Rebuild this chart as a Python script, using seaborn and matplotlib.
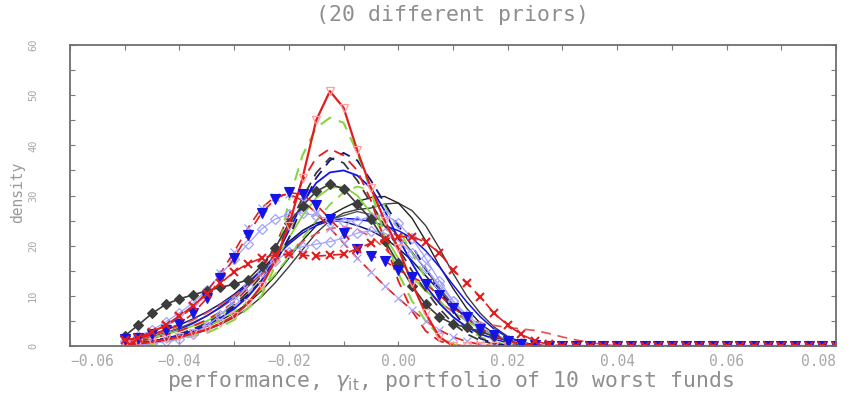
import numpy as np
import pandas as pd
import matplotlib
matplotlib.use("Agg")
import matplotlib.pyplot as plt
import seaborn as sns

# Evaluation grid of the posterior densities (performance of the 10-worst-funds portfolio)
GRID = np.linspace(-0.05, 0.08, 53)

# Density values on GRID starting at -0.05; past the listed points the density is zero
red_solid = [0.3, 0.5, 0.8, 1.3, 1.8, 2.5, 3.3, 4.5, 6.0, 8.5, 12.0, 17.0, 24.0, 33.5, 45.0,
             50.8, 47.5, 39.0, 31.5, 25.0, 19.5, 12.5, 6.5, 1.8, 0.0]
green_dash = [0.0, 0.2, 0.4, 0.8, 1.4, 2.0, 2.6, 3.8, 5.2, 7.5, 10.0, 16.0, 29.0, 38.0, 43.5,
              45.5, 44.5, 38.5, 31.0, 22.0, 14.5, 9.0, 5.0, 2.0, 0.3, 0.0]
red_dash = [0.5, 1.0, 1.5, 2.2, 3.0, 4.0, 5.2, 6.8, 8.8, 11.5, 15.0, 20.0, 26.0, 33.0, 37.5,
            39.3, 38.0, 35.0, 29.0, 21.0, 13.0, 7.0, 3.0, 1.0, 0.2, 0.0]
navy_dash = [0.0, 0.3, 0.7, 1.2, 2.0, 3.0, 4.2, 5.8, 7.8, 10.2, 13.0, 16.5, 21.5, 28.0, 33.5,
             37.0, 38.5, 37.0, 33.0, 28.5, 24.0, 20.0, 15.5, 11.0, 7.0, 3.5, 1.5, 0.5, 0.1, 0.0]
grey_dash = [0.3, 0.6, 1.0, 1.6, 2.4, 3.4, 4.6, 6.2, 8.2, 10.8, 14.0, 18.5, 24.0, 29.5, 34.5,
             37.5, 36.5, 33.0, 28.5, 24.0, 19.5, 15.0, 11.0, 7.5, 4.5, 2.4, 1.1, 0.4, 0.1, 0.0]
blue_solid = [0.2, 0.5, 0.9, 1.5, 2.2, 3.1, 4.2, 5.6, 7.4, 9.8, 13.0, 17.5, 23.0, 28.5, 32.5,
              34.6, 35.0, 34.0, 31.5, 27.0, 21.5, 16.5, 12.0, 8.5, 5.8, 3.8, 2.4, 1.4, 0.7, 0.3, 0.0]
grey_diamond = [2.0, 4.2, 6.5, 8.3, 9.4, 10.2, 11.0, 11.7, 12.3, 13.2, 16.0, 19.5, 24.5, 28.0, 30.8,
                32.3, 31.3, 28.3, 25.3, 21.0, 16.5, 12.0, 8.3, 5.8, 4.4, 3.7, 2.9, 1.9, 1.0, 0.4, 0.1, 0.0]
blue_triangle = [1.3, 1.5, 2.3, 3.2, 4.4, 6.5, 9.5, 13.5, 17.5, 22.2, 26.5, 29.3, 30.6, 30.2, 28.2,
                 25.3, 22.5, 19.3, 18.0, 17.0, 15.1, 13.8, 12.3, 10.2, 7.6, 5.7, 3.4, 2.1, 1.0, 0.4, 0.1, 0.0]
red_cross = [1.2, 1.6, 2.8, 4.2, 6.0, 8.0, 10.3, 12.5, 14.8, 16.4, 17.5, 18.2, 18.3, 18.1, 17.9,
             18.1, 18.3, 19.4, 20.5, 21.3, 21.8, 21.8, 20.7, 18.6, 15.2, 12.5, 9.8, 6.5, 4.2, 2.3, 1.0, 0.3, 0.0]
lavender_diamond = [1.0, 2.0, 3.2, 4.8, 6.6, 8.6, 11.2, 14.2, 17.3, 20.3, 23.3, 25.3, 26.3, 26.5, 26.0,
                    25.2, 24.8, 25.0, 25.8, 26.2, 24.5, 21.5, 17.5, 13.0, 9.0, 5.8, 3.4, 1.8, 0.8, 0.3, 0.0]
lavender_diamond_2 = [0.0, 0.2, 0.5, 0.9, 1.4, 2.4, 4.0, 6.2, 9.0, 12.0, 14.8, 17.0, 18.8, 19.8, 20.3,
                      20.8, 21.5, 22.5, 23.0, 22.5, 21.0, 18.5, 15.5, 12.2, 9.0, 6.2, 4.0, 2.3, 1.2, 0.5, 0.1, 0.0]
green_solid = [0.5, 1.0, 1.6, 2.3, 3.1, 4.0, 5.0, 6.3, 8.0, 10.2, 13.2, 17.0, 21.5, 26.0, 29.5,
               31.5, 31.8, 30.0, 26.5, 22.0, 17.5, 13.8, 11.0, 8.8, 6.8, 5.0, 3.4, 2.0, 1.0, 0.4, 0.1, 0.0]
black_solid = [0.3, 0.6, 1.0, 1.5, 2.1, 2.9, 3.9, 5.1, 6.6, 8.5, 11.0, 14.0, 17.5, 21.0, 24.0,
               26.0, 27.5, 28.8, 29.6, 29.8, 28.5, 25.5, 21.0, 16.0, 11.5, 7.5, 4.5, 2.4, 1.1, 0.4, 0.1, 0.0]
grey_solid = [0.6, 1.2, 1.9, 2.7, 3.6, 4.7, 6.0, 7.6, 9.5, 11.8, 14.4, 17.3, 20.5, 23.0, 24.5,
              25.2, 26.0, 26.8, 26.2, 24.5, 22.0, 18.8, 15.2, 11.6, 8.3, 5.6, 3.5, 2.0, 1.0, 0.4, 0.1, 0.0]
navy_solid = [0.8, 1.5, 2.3, 3.2, 4.2, 5.4, 6.8, 8.4, 10.3, 12.6, 15.2, 18.0, 20.8, 23.0, 24.5,
              25.0, 24.8, 24.0, 23.0, 21.5, 19.5, 17.0, 14.0, 11.0, 8.0, 5.5, 3.5, 2.0, 1.0, 0.4, 0.1, 0.0]
blue_solid_2 = [0.4, 0.9, 1.5, 2.3, 3.3, 4.5, 6.0, 7.8, 9.9, 12.3, 15.0, 17.8, 20.3, 22.5, 24.0,
                25.0, 25.4, 25.3, 24.8, 24.0, 23.0, 21.5, 19.0, 15.8, 12.2, 8.8, 5.8, 3.4, 1.7, 0.7, 0.2, 0.0]
grey_solid_2 = [0.2, 0.4, 0.7, 1.1, 1.6, 2.3, 3.2, 4.3, 5.7, 7.5, 9.8, 12.6, 15.8, 19.2, 22.5,
                25.0, 26.5, 27.2, 27.5, 28.3, 28.5, 27.0, 24.0, 19.5, 14.5, 10.0, 6.5, 3.8, 1.9, 0.8, 0.2, 0.0]
red_dash_cross = [1.0, 1.8, 2.8, 4.0, 5.6, 7.8, 10.8, 14.5, 18.8, 23.5, 27.5, 29.8, 30.3, 29.0, 26.5,
                  23.5, 20.5, 17.5, 14.8, 12.0, 9.5, 7.2, 5.0, 3.2, 1.8, 0.9, 0.3, 0.0]
green_dash_2 = [0.3, 0.6, 1.0, 1.5, 2.1, 2.9, 3.9, 5.2, 6.8, 8.8, 11.3, 14.3, 17.8, 21.5, 25.0,
                28.2, 30.6, 31.8, 31.0, 28.0, 23.5, 18.5, 13.5, 9.2, 5.8, 3.4, 1.8, 0.8, 0.3, 0.0]
red_dash_tail = [0.8, 1.4, 2.1, 3.0, 4.0, 5.2, 6.6, 8.2, 10.0, 12.0, 14.2, 16.5, 18.8, 20.8, 22.4,
                 23.4, 23.8, 23.2, 21.8, 19.5, 16.8, 14.0, 11.2, 8.8, 6.8, 5.4, 4.6, 4.1, 3.7, 3.4,
                 3.1, 2.5, 1.8, 1.2, 0.7, 0.3, 0.0]

XTICKS = [-0.06, -0.04, -0.02, 0.00, 0.02, 0.04, 0.06, 0.08]
XTICK_LABELS = ["\u22120.06", "\u22120.04", "\u22120.02", "0.00", "0.02", "0.04", "0.06", "0.08"]
YTICKS = [0, 10, 20, 30, 40, 50, 60]

# the 20 priors, in drawing order (plain lines first, marked lines on top)
PRIORS = [
    ("grey_solid", grey_solid), ("grey_solid_2", grey_solid_2), ("black_solid", black_solid),
    ("navy_solid", navy_solid), ("blue_solid_2", blue_solid_2), ("green_solid", green_solid),
    ("green_dash_2", green_dash_2), ("red_dash_tail", red_dash_tail), ("grey_dash", grey_dash),
    ("navy_dash", navy_dash), ("blue_solid", blue_solid), ("red_dash", red_dash),
    ("green_dash", green_dash), ("lavender_diamond_2", lavender_diamond_2),
    ("lavender_diamond", lavender_diamond), ("red_dash_cross", red_dash_cross),
    ("grey_diamond", grey_diamond), ("red_solid", red_solid), ("blue_triangle", blue_triangle),
    ("red_cross", red_cross),
]

RED, GREEN, NAVY, BLUE = "#e21d1d", "#86d63a", "#16167a", "#1414e6"
DARK, LAV, PINK = "#3c3c3c", "#a2a2ff", "#ff9c9c"
DASH = (0, (6, 4))
STYLES = {
    "grey_solid": dict(color="#555555", lw=1.0),
    "grey_solid_2": dict(color=DARK, lw=1.0),
    "black_solid": dict(color="#222222", lw=1.0),
    "navy_solid": dict(color=NAVY, lw=1.1),
    "blue_solid_2": dict(color=BLUE, lw=1.1),
    "green_solid": dict(color=GREEN, lw=1.3),
    "green_dash_2": dict(color=GREEN, lw=1.3, ls=DASH),
    "red_dash_tail": dict(color="#e85050", lw=1.2, ls=DASH),
    "grey_dash": dict(color=DARK, lw=1.3, ls=DASH),
    "navy_dash": dict(color=NAVY, lw=1.3, ls=DASH),
    "blue_solid": dict(color=BLUE, lw=1.3),
    "red_dash": dict(color=RED, lw=1.3, ls=DASH),
    "green_dash": dict(color=GREEN, lw=1.5, ls=DASH),
    "lavender_diamond_2": dict(color=LAV, lw=0.9, marker="D", ms=5.5, mfc="none", mec=LAV, mew=0.9),
    "lavender_diamond": dict(color=LAV, lw=0.9, marker="D", ms=5.5, mfc="none", mec=LAV, mew=0.9),
    "red_dash_cross": dict(color=RED, lw=1.2, ls=DASH, marker="x", ms=5.5, mec=LAV, mew=0.9),
    "grey_diamond": dict(color=DARK, lw=1.2, marker="D", ms=5.0, mfc=DARK, mec=DARK, mew=0.8),
    "red_solid": dict(color=RED, lw=1.6, marker="v", ms=6.0, mfc="none", mec=PINK, mew=0.9),
    "blue_triangle": dict(color=RED, lw=1.2, ls=DASH, marker="v", ms=7.0, mfc=BLUE, mec=BLUE, mew=0.8),
    "red_cross": dict(color=RED, lw=1.2, ls=DASH, marker="x", ms=6.0, mec=RED, mew=1.5),
}

frames = []
for name, vals in PRIORS:
    dens = np.zeros(len(GRID))
    dens[:len(vals)] = vals
    frames.append(pd.DataFrame({"performance": GRID, "density": dens, "prior": name}))
df = pd.concat(frames, ignore_index=True)

sns.set_theme(style="white")
plt.rcParams["font.family"] = ["DejaVu Sans Mono", "DejaVu Sans"]
plt.rcParams["mathtext.fontset"] = "dejavusans"

fig = plt.figure(figsize=(8.58, 3.94), dpi=100)
ax = fig.add_axes([70 / 858, 48 / 394, 766 / 858, 301 / 394])

for name, _ in PRIORS:
    sns.lineplot(data=df[df["prior"] == name], x="performance", y="density", ax=ax,
                 errorbar=None, sort=False, legend=False, **STYLES[name])

ax.set_xlim(-0.06, 0.08)
ax.set_ylim(0, 60)
ax.set_xticks(XTICKS)
ax.set_xticklabels(XTICK_LABELS)
ax.set_xticks(np.arange(-0.05, 0.08, 0.02), minor=True)
ax.set_yticks(YTICKS)
ax.set_yticks([5, 15, 25, 35, 45, 55], minor=True)

tick_col = "#a8a8a8"
ax.tick_params(axis="both", which="both", direction="in", length=3.6, width=0.8,
               color="#7a7a7a", top=True, right=True, bottom=True, left=True)
ax.tick_params(axis="x", which="major", labelsize=10.5, labelcolor=tick_col, pad=6)
ax.tick_params(axis="y", which="major", labelsize=7.5, labelcolor=tick_col, pad=23)
for lab in ax.get_yticklabels():
    lab.set_rotation(90)
    lab.set_va("center")
    lab.set_ha("right")
xl = ax.get_xticklabels()
xl[0].set_ha("left")
xl[-1].set_ha("right")

for side in ax.spines.values():
    side.set_color("#6e6e6e")
    side.set_linewidth(1.3)

ax.set_xlabel(r"performance, $\gamma_{\rm it}$, portfolio of 10 worst funds",
              fontsize=15.5, color="#8e8e8e")
ax.xaxis.set_label_coords(0.496, -0.116)
ax.xaxis.label.set_va("center")
ax.set_ylabel("density", fontsize=10.5, color="#9a9a9a")
ax.yaxis.set_label_coords(-0.068, 0.512)
ax.yaxis.label.set_va("center")
ax.set_title("(20 different priors)", fontsize=15.5, color="#8e8e8e",
             y=1.0997, va="center", pad=0)

fig.savefig("out.png", dpi=100, facecolor="white")
